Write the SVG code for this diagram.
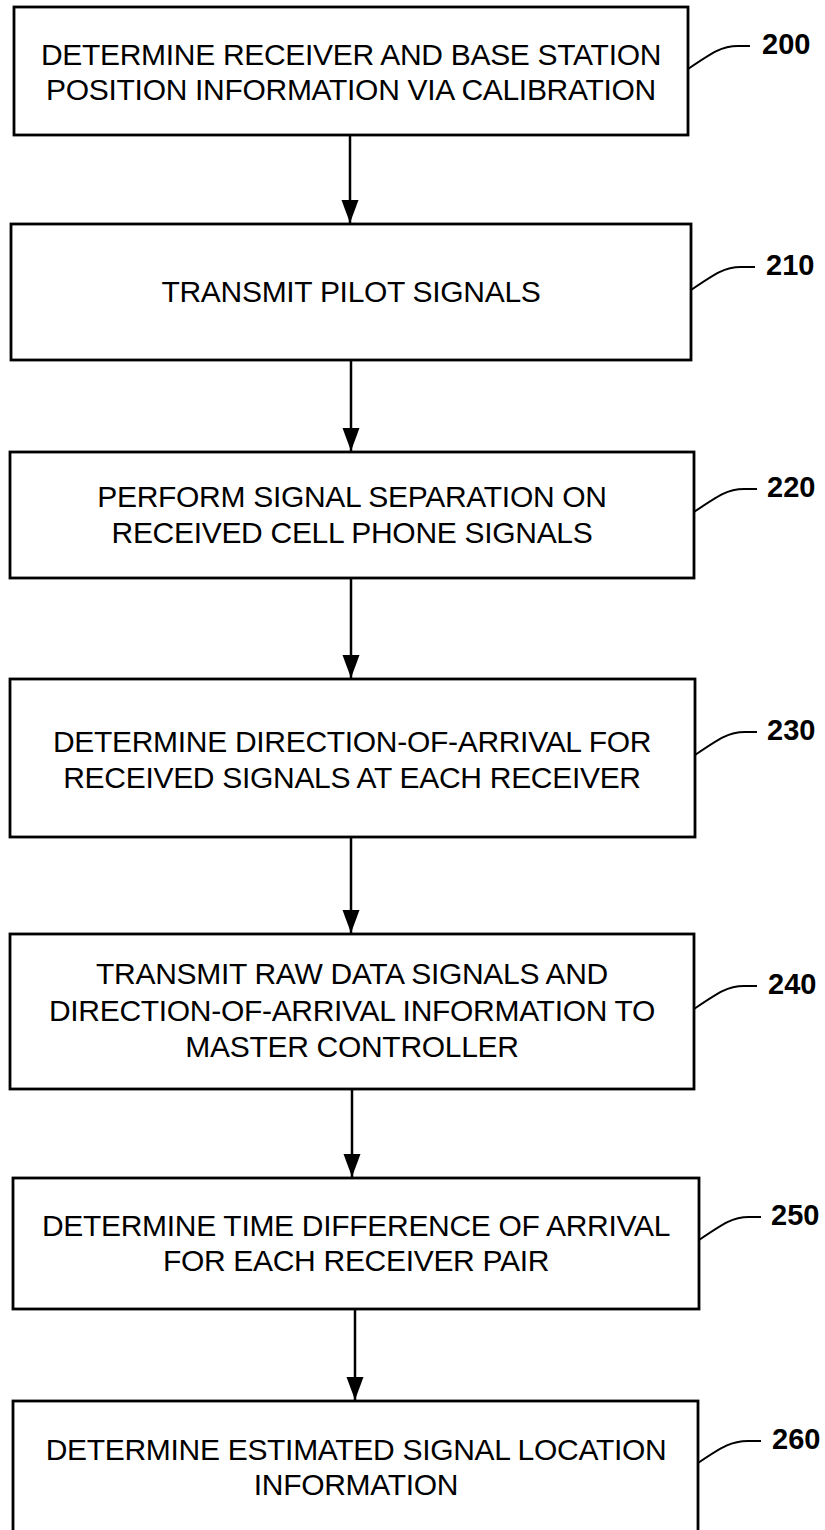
<svg xmlns="http://www.w3.org/2000/svg" width="825" height="1530" viewBox="0 0 825 1530">
<defs>
<marker id="arr" markerWidth="24" markerHeight="18" refX="23" refY="9" orient="auto" markerUnits="userSpaceOnUse" viewBox="0 0 24 18">
<path d="M0,0.5 L23,9 L0,17.5 Z" fill="#000"/>
</marker>
<style>
.box{fill:#fff;stroke:#000;stroke-width:2.8}
.t{font-family:"Liberation Sans",Arial,Helvetica,sans-serif;font-size:30px;letter-spacing:-0.3px;text-anchor:middle;fill:#000}
.n{font-family:"Liberation Sans",Arial,Helvetica,sans-serif;font-size:29px;font-weight:bold;fill:#000}
.ld{fill:none;stroke:#000;stroke-width:2}
.c{fill:none;stroke:#000;stroke-width:2.5}
</style>
</defs>
<rect width="825" height="1530" fill="#fff"/>
<g id="connectors">
<line class="c" x1="350" y1="135" x2="350" y2="223" marker-end="url(#arr)"/>
<line class="c" x1="351" y1="360" x2="351" y2="451" marker-end="url(#arr)"/>
<line class="c" x1="351" y1="578" x2="351" y2="678" marker-end="url(#arr)"/>
<line class="c" x1="351" y1="837" x2="351" y2="933" marker-end="url(#arr)"/>
<line class="c" x1="352" y1="1089" x2="352" y2="1177" marker-end="url(#arr)"/>
<line class="c" x1="355" y1="1309" x2="355" y2="1400" marker-end="url(#arr)"/>
</g>
<g id="n200">
<rect class="box" x="14" y="7" width="674" height="128"/>
<text class="t" x="351" y="64.5">DETERMINE RECEIVER AND BASE STATION</text>
<text class="t" x="351" y="100">POSITION INFORMATION VIA CALIBRATION</text>
<path class="ld" d="M688,69 C713,52 722,46 738,46 H750"/>
<text class="n" x="762" y="54">200</text>
</g>
<g id="n210">
<rect class="box" x="11" y="224" width="680" height="136"/>
<text class="t" x="351" y="302">TRANSMIT PILOT SIGNALS</text>
<path class="ld" d="M691,290 C716,273 725,267 741,267 H755"/>
<text class="n" x="766" y="275">210</text>
</g>
<g id="n220">
<rect class="box" x="10" y="452" width="684" height="126"/>
<text class="t" x="352" y="507">PERFORM SIGNAL SEPARATION ON</text>
<text class="t" x="352" y="542.5">RECEIVED CELL PHONE SIGNALS</text>
<path class="ld" d="M694,512 C719,495 728,489 744,489 H757"/>
<text class="n" x="767" y="497">220</text>
</g>
<g id="n230">
<rect class="box" x="10" y="679" width="685" height="158"/>
<text class="t" x="352" y="752">DETERMINE DIRECTION-OF-ARRIVAL FOR</text>
<text class="t" x="352" y="787.5">RECEIVED SIGNALS AT EACH RECEIVER</text>
<path class="ld" d="M695,755 C720,738 729,732 745,732 H757"/>
<text class="n" x="767" y="740">230</text>
</g>
<g id="n240">
<rect class="box" x="10" y="934" width="684" height="155"/>
<text class="t" x="352" y="984">TRANSMIT RAW DATA SIGNALS AND</text>
<text class="t" x="352" y="1021">DIRECTION-OF-ARRIVAL INFORMATION TO</text>
<text class="t" x="352" y="1057">MASTER CONTROLLER</text>
<path class="ld" d="M694,1009 C719,992 728,986 744,986 H757"/>
<text class="n" x="768" y="994">240</text>
</g>
<g id="n250">
<rect class="box" x="13" y="1178" width="686" height="131"/>
<text class="t" x="356" y="1236">DETERMINE TIME DIFFERENCE OF ARRIVAL</text>
<text class="t" x="356" y="1271">FOR EACH RECEIVER PAIR</text>
<path class="ld" d="M699,1240 C724,1223 733,1217 749,1217 H761"/>
<text class="n" x="771" y="1225">250</text>
</g>
<g id="n260">
<rect class="box" x="13" y="1401" width="685" height="140"/>
<text class="t" x="356" y="1460">DETERMINE ESTIMATED SIGNAL LOCATION</text>
<text class="t" x="356" y="1495">INFORMATION</text>
<path class="ld" d="M698,1463 C723,1446 732,1441 748,1441 H761"/>
<text class="n" x="772" y="1449">260</text>
</g>
</svg>
